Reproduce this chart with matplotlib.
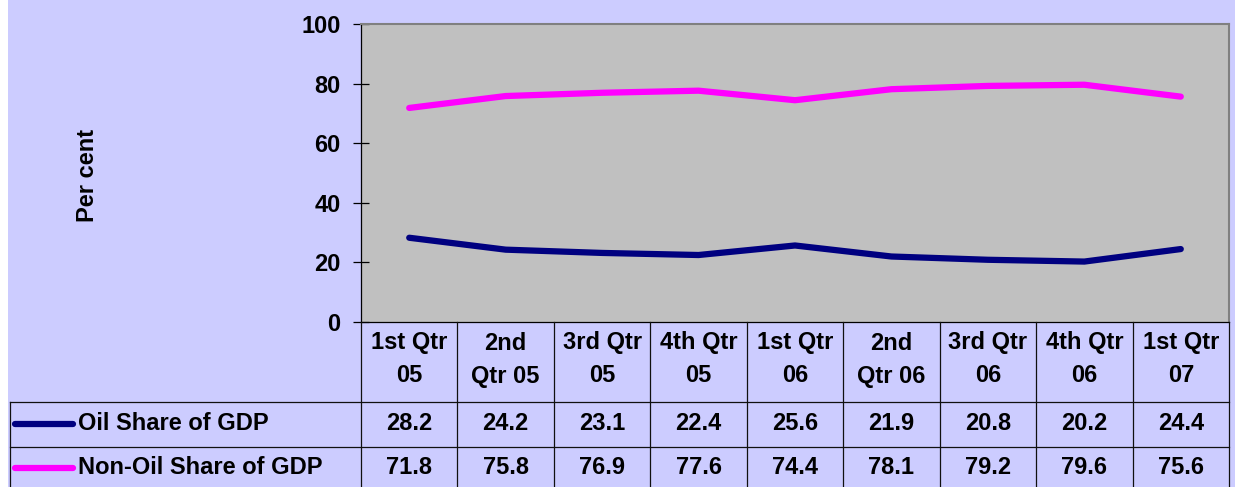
import numpy as np
import matplotlib.pyplot as plt

plt.rcParams['font.family'] = ['Liberation Sans', 'DejaVu Sans']
plt.rcParams['font.weight'] = 'bold'

# data
quarters = ["1st Qtr\n05", "2nd\nQtr 05", "3rd Qtr\n05", "4th Qtr\n05", "1st Qtr\n06",
            "2nd\nQtr 06", "3rd Qtr\n06", "4th Qtr\n06", "1st Qtr\n07"]
oil_share = [28.2, 24.2, 23.1, 22.4, 25.6, 21.9, 20.8, 20.2, 24.4]
non_oil_share = [71.8, 75.8, 76.9, 77.6, 74.4, 78.1, 79.2, 79.6, 75.6]
series_names = ["Oil Share of GDP", "Non-Oil Share of GDP"]
series_colors = ["#000080", "#FF00FF"]
y_ticks = [0, 20, 40, 60, 80, 100]

W, H = 1235, 487
bg = "#CCCCFF"
fs = 17

fig = plt.figure(figsize=(W / 100, H / 100), dpi=100, facecolor=bg)

# plot area in pixels
left, right, top, bottom = 361, 1229, 24, 321.7
ax = fig.add_axes([left / W, 1 - bottom / H, (right - left) / W, (bottom - top) / H])
ax.set_facecolor("#C0C0C0")

n = len(quarters)
x = np.arange(n)
for vals, c in zip([oil_share, non_oil_share], series_colors):
    ax.plot(x, vals, color=c, lw=4.5, solid_capstyle='round', solid_joinstyle='round')

ax.set_xlim(-0.5, n - 0.5)
ax.set_ylim(0, 100)
ax.set_yticks(y_ticks)
ax.set_yticklabels([str(t) for t in y_ticks], fontsize=fs, fontweight='bold')
ax.tick_params(axis='y', direction='inout', length=12.2, width=0.9, pad=8.5)
ax.set_xticks([])
for s in ['left', 'bottom']:
    ax.spines[s].set_color('black')
    ax.spines[s].set_linewidth(0.9)
for s in ['top', 'right']:
    ax.spines[s].set_color('#808080')
    ax.spines[s].set_linewidth(1.5)

fig.text(87 / W, 1 - 175 / H, "Per cent", rotation=90, ha='center', va='center',
         fontsize=fs, fontweight='bold')

# data table drawn on an overlay in pixel coordinates
tax = fig.add_axes([0, 0, 1, 1])
tax.set_xlim(0, W)
tax.set_ylim(H, 0)
tax.axis('off')
tax.patch.set_visible(False)

tax.add_patch(plt.Rectangle((0, 0), 8, H, color='white', lw=0))

colw = (right - left) / n
row1, row2, tbl_left = 401.7, 447, 10
lc, lw = '#101010', 0.9
for i in range(n + 1):
    xe = left + i * colw
    tax.plot([xe, xe], [bottom, H], color=lc, lw=lw)
tax.plot([tbl_left, tbl_left], [row1, H], color=lc, lw=lw)
for yr in [row1, row2]:
    tax.plot([tbl_left, right], [yr, yr], color=lc, lw=lw)

for i, q in enumerate(quarters):
    xc = left + (i + 0.5) * colw
    for j, part in enumerate(q.split("\n")):
        tax.text(xc, 343 + j * 33, part, ha='center', va='center', fontsize=fs, fontweight='bold')

row_centers = [424, 468]
for yc, name, c, vals in zip(row_centers, series_names, series_colors, [oil_share, non_oil_share]):
    tax.plot([15, 73], [yc, yc], color=c, lw=4.5, solid_capstyle='round')
    tax.text(78, yc, name, ha='left', va='center', fontsize=fs, fontweight='bold')
    for i, v in enumerate(vals):
        tax.text(left + (i + 0.5) * colw, yc, f"{v:.1f}", ha='center', va='center',
                 fontsize=fs, fontweight='bold')

fig.savefig("out.png", dpi=100, facecolor=bg)
